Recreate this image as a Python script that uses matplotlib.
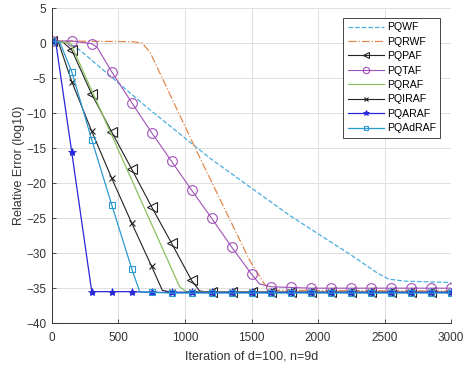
import matplotlib
matplotlib.use('Agg')
import matplotlib.pyplot as plt

plt.rcParams['font.family'] = ['Liberation Sans', 'DejaVu Sans']

# данные
x_wf = [0, 120, 210, 735, 1185, 1785, 2250, 2450, 2530, 2650, 3000]
y_wf = [0.3, 0.1, -1.0, -9.5, -16.4, -24.6, -30.3, -32.9, -33.7, -34.0, -34.2]

x_rwf = [0, 600, 680, 740, 1085, 1485, 1600, 1660, 3000]
y_rwf = [0.3, 0.2, 0.0, -1.4, -15.3, -31.0, -34.5, -35.3, -35.4]

x_paf = [0, 80, 150, 300, 450, 600, 750, 900, 1050, 1110, 1200, 1350, 1500, 1650, 1800, 1950,
         2100, 2250, 2400, 2550, 2700, 2850, 3000]
y_paf = [0.3, 0.2, -1.0, -7.3, -12.7, -18.0, -23.4, -28.6, -33.9, -35.4, -35.6, -35.6, -35.6, -35.6,
         -35.6, -35.6, -35.6, -35.6, -35.6, -35.6, -35.6, -35.6, -35.6]

x_taf = [0, 150, 300, 340, 450, 600, 750, 900, 1050, 1200, 1350, 1500, 1560, 1650, 1800, 1950,
         2100, 2250, 2400, 2550, 2700, 2850, 3000]
y_taf = [0.3, 0.3, -0.1, -0.6, -4.1, -8.5, -12.8, -16.9, -21.0, -25.0, -29.1, -33.0, -34.4, -34.8,
         -34.9, -35.0, -35.0, -35.0, -35.0, -35.0, -35.0, -35.0, -35.0]

x_raf = [0, 140, 960, 1010, 3000]
y_raf = [0.3, 0.0, -34.8, -35.5, -35.6]

x_iraf = [0, 50, 150, 300, 450, 600, 750, 830, 900, 1050, 1200, 1350, 1500, 1650, 1800, 1950,
          2100, 2250, 2400, 2550, 2700, 2850, 3000]
y_iraf = [0.3, 0.1, -5.5, -12.6, -19.3, -25.7, -31.9, -35.3, -35.6, -35.6, -35.6, -35.6, -35.6,
          -35.6, -35.6, -35.6, -35.6, -35.6, -35.6, -35.6, -35.6, -35.6, -35.6]

x_araf = [0, 30, 150, 300, 450, 600, 750, 900, 1050, 1200, 1350, 1500, 1650, 1800, 1950,
          2100, 2250, 2400, 2550, 2700, 2850, 3000]
y_araf = [0.3, 0.1, -15.6, -35.5, -35.5, -35.5, -35.6, -35.6, -35.6, -35.6, -35.6, -35.6, -35.6,
          -35.6, -35.6, -35.6, -35.6, -35.6, -35.6, -35.6, -35.6, -35.6]

x_adraf = [0, 60, 150, 300, 450, 600, 660, 750, 900, 1050, 1200, 1350, 1500, 1650, 1800, 1950,
           2100, 2250, 2400, 2550, 2700, 2850, 3000]
y_adraf = [0.3, 0.1, -4.1, -13.8, -23.1, -32.2, -35.5, -35.6, -35.7, -35.7, -35.7, -35.7, -35.7,
           -35.7, -35.7, -35.7, -35.7, -35.7, -35.7, -35.7, -35.7, -35.7, -35.7]


def marks(xs):
    # маркеры только на кратных 150
    return [i for i, v in enumerate(xs) if v % 150 == 0]


fig = plt.figure(figsize=(4.71, 3.66), dpi=100)
ax = fig.add_axes([0.110, 0.117, 0.848, 0.861])

ax.plot(x_wf, y_wf, '--', color='#4DAEE0', lw=0.9, label='PQWF')
ax.plot(x_rwf, y_rwf, '-.', color='#E08A50', lw=0.9, label='PQRWF')
ax.plot(x_paf, y_paf, '-', color='#222222', lw=0.8, marker='<', ms=7, mfc='none', mew=0.8,
        markevery=marks(x_paf), label='PQPAF')
ax.plot(x_taf, y_taf, '-', color='#A050B8', lw=0.8, marker='o', ms=7, mfc='none', mew=0.8,
        markevery=marks(x_taf), label='PQTAF')
ax.plot(x_raf, y_raf, '-', color='#8CC060', lw=0.9, label='PQRAF')
ax.plot(x_iraf, y_iraf, '-', color='#222222', lw=0.8, marker='x', ms=4.5, mew=0.8,
        markevery=marks(x_iraf), label='PQIRAF')
ax.plot(x_araf, y_araf, '-', color='#2828D8', lw=0.9, marker='*', ms=6, mew=0.6,
        markevery=marks(x_araf), label='PQARAF')
ax.plot(x_adraf, y_adraf, '-', color='#2A9AD0', lw=0.9, marker='s', ms=4.5, mfc='none', mew=0.8,
        markevery=marks(x_adraf), label='PQAdRAF')

ax.set_xlim(0, 3000)
ax.set_ylim(-40, 5)
ax.set_xticks(range(0, 3001, 500))
ax.set_yticks(range(-40, 6, 5))
ax.grid(True, color='#E0E0E0', lw=0.7)
ax.set_axisbelow(True)
for s in ['top', 'right']:
    ax.spines[s].set_visible(False)
for s in ['left', 'bottom']:
    ax.spines[s].set_color('#333333')
    ax.spines[s].set_linewidth(0.7)
ax.tick_params(direction='in', length=3, width=0.6, labelsize=8.5, colors='#333333',
               labelcolor='#333333')
ax.tick_params(axis='x', pad=6)
ax.tick_params(axis='y', pad=4)

ax.set_xlabel('Iteration of d=100, n=9d', fontsize=9, color='#333333', labelpad=5)
ax.set_ylabel('Relative Error (log10)', fontsize=9, color='#333333', labelpad=1)

leg = ax.legend(loc='upper right', bbox_to_anchor=(0.985, 0.985), fontsize=7.6, handlelength=3.4,
                labelspacing=0.42, borderpad=0.4, handletextpad=0.3, fancybox=False,
                edgecolor='#444444', framealpha=1, markerscale=0.65)
leg.get_frame().set_linewidth(0.7)

fig.savefig('out.png', dpi=100)
